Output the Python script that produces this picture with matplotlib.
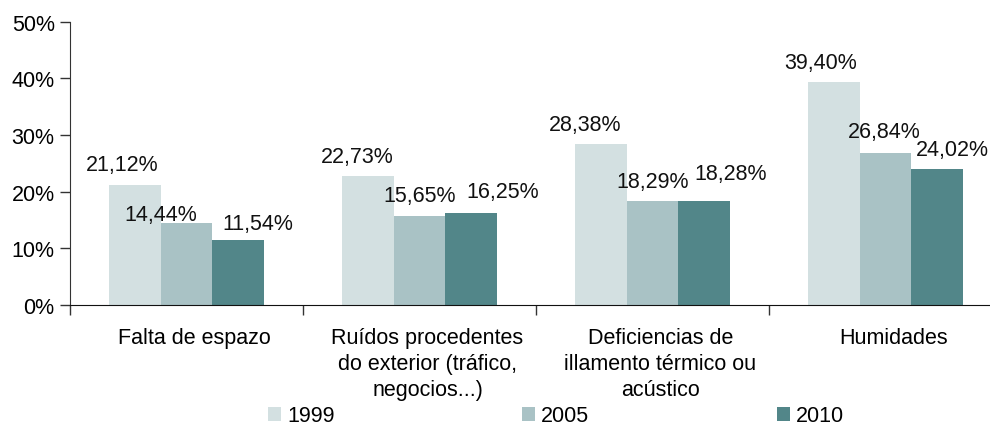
import matplotlib
matplotlib.use('Agg')
import matplotlib.pyplot as plt
import matplotlib.transforms as mtransforms
from matplotlib.patches import Patch
import numpy as np

plt.rcParams['font.family'] = ['Liberation Sans', 'DejaVu Sans']

categories = ['Falta de espazo',
              'Ruídos procedentes\ndo exterior (tráfico,\nnegocios...)',
              'Deficiencias de\nillamento térmico ou\nacústico',
              'Humidades']
years = ['1999', '2005', '2010']
v1999 = [21.12, 22.73, 28.38, 39.40]
v2005 = [14.44, 15.65, 18.29, 26.84]
v2010 = [11.54, 16.25, 18.28, 24.02]
series = [v1999, v2005, v2010]
colors = ['#D3E0E1', '#A9C2C5', '#528689']

# label nudges (pixels) so the numbers sit like in the original
label_dx = [[-12, -10, -15, -13], [-26, 0, 0, -1], [19, 31, 26, 15]]
label_dy = [[15, 14, 14, 14], [3, 15, 14, 16], [11, 16, 22, 14]]

fs = 15.5
fig = plt.figure(figsize=(9.9, 4.27), dpi=100)
ax = fig.add_axes([70/990, 121/427, 932/990, 283.3/427])

x = np.arange(len(categories))
w = 0.223
for j, vals in enumerate(series):
    pos = x + (j - 1) * w
    ax.bar(pos, vals, width=w, color=colors[j], label=years[j])
    for i, v in enumerate(vals):
        txt = ('%.2f%%' % v).replace('.', ',')
        ax.annotate(txt, (pos[i], v), xytext=(label_dx[j][i], label_dy[j][i]),
                    textcoords='offset pixels', ha='center', va='baseline',
                    fontsize=fs, color='#111111')

ax.set_xlim(-0.5, 3.5)
ax.set_ylim(0, 50)
ax.set_yticks([0, 10, 20, 30, 40, 50])
ax.set_yticklabels(['%d%%' % t for t in [0, 10, 20, 30, 40, 50]], fontsize=fs)
ax.tick_params(axis='y', direction='out', length=7, width=1, color='#333333', pad=4)

ax.set_xticks(x)
ax.set_xticklabels(categories, fontsize=fs, linespacing=1.3)
ax.set_xticks([-0.5, 0.5, 1.5, 2.5, 3.5], minor=True)
ax.tick_params(axis='x', which='major', length=0, pad=16)
ax.tick_params(axis='x', which='minor', direction='out', length=7, width=1, color='#333333')
shift = mtransforms.ScaledTranslation(8/100, 0, fig.dpi_scale_trans)
for lab in ax.get_xticklabels():
    lab.set_transform(lab.get_transform() + shift)

ax.spines['top'].set_visible(False)
ax.spines['right'].set_visible(False)
ax.spines['left'].set_color('#333333')
ax.spines['bottom'].set_color('#111111')

handles = [Patch(facecolor=c, edgecolor='none') for c in colors]
fig.legend(handles, years, loc='center', bbox_to_anchor=(556/990, 10/427),
           ncol=3, frameon=False, fontsize=fs, handlelength=0.6, handleheight=0.6,
           handletextpad=0.3, columnspacing=8.7, borderaxespad=0, borderpad=0)

fig.savefig('out.png', dpi=100)
